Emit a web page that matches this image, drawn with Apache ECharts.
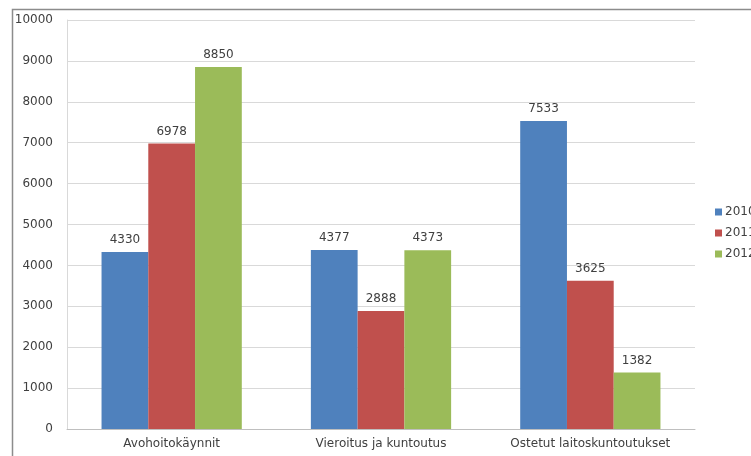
<!DOCTYPE html>
<html>
<head>
<meta charset="utf-8">
<script src="https://cdn.jsdelivr.net/npm/echarts@6/dist/echarts.min.js"></script>
<style>
html,body{margin:0;padding:0;background:#fff;}
#c{width:751px;height:456px;}
</style>
</head>
<body>
<div id="c"></div>
<script>
const categories = ['Avohoitokäynnit', 'Vieroitus ja kuntoutus', 'Ostetut laitoskuntoutukset'];
const years = ['2010', '2011', '2012'];
const values2010 = [4330, 4377, 7533];
const values2011 = [6978, 2888, 3625];
const values2012 = [8850, 4373, 1382];
const colors = ['#4F81BD', '#C0504D', '#9BBB59'];

const font = 'DejaVu Sans';
const chart = echarts.init(document.getElementById('c'), null, {renderer: 'canvas'});
const seriesData = [values2010, values2011, values2012];
chart.setOption({
  animation: false,
  textStyle: {fontFamily: font},
  graphic: [{
    type: 'rect', left: 10, top: 7, shape: {width: 800, height: 500},
    style: {fill: 'none', stroke: '#8c8c8c', lineWidth: 1.5}, z: -1
  }],
  grid: {left: 67, right: 56, top: 20, bottom: 27},
  legend: {
    orient: 'vertical', left: 710, top: 201,
    itemWidth: 7, itemHeight: 7, itemGap: 9,
    icon: 'rect',
    textStyle: {fontFamily: font, fontSize: 12, color: '#404040', padding: [0, 0, 0, -2]},
    data: years
  },
  xAxis: {
    type: 'category', data: categories,
    axisLine: {lineStyle: {color: '#bfbfbf'}},
    axisTick: {show: false},
    axisLabel: {fontFamily: font, fontSize: 12, color: '#404040', margin: 9}
  },
  yAxis: {
    type: 'value', min: 0, max: 10000, interval: 1000,
    axisLine: {show: true, lineStyle: {color: '#d9d9d9'}},
    axisTick: {show: false},
    splitLine: {lineStyle: {color: '#d9d9d9'}},
    axisLabel: {fontFamily: font, fontSize: 12, color: '#404040', margin: 14, formatter: v => String(v)}
  },
  series: years.map((y, i) => ({
    name: y, type: 'bar', data: seriesData[i],
    barCategoryGap: '33%', barGap: '0%',
    itemStyle: {color: colors[i]},
    label: {show: true, position: 'top', distance: 6, fontFamily: font, fontSize: 12, color: '#404040'}
  }))
});
</script>
</body>
</html>
